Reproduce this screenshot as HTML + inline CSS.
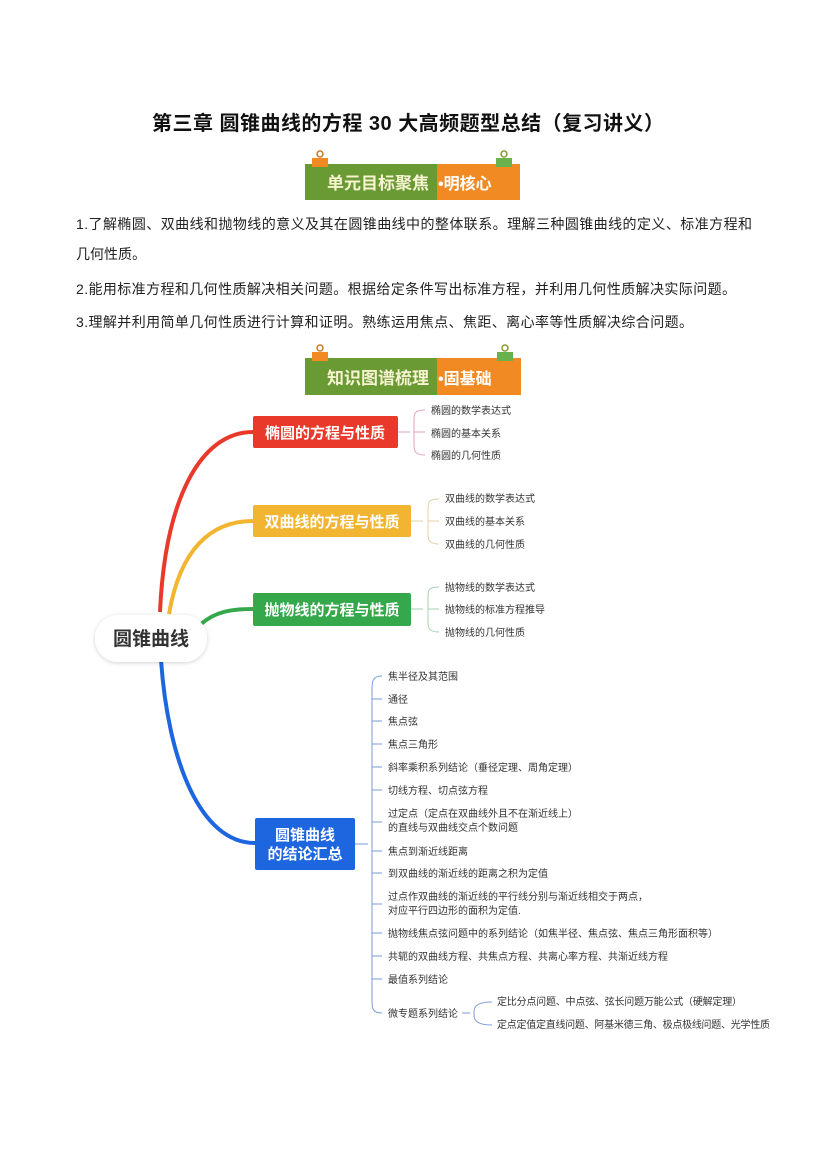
<!DOCTYPE html>
<html><head><meta charset="utf-8"><style>
html,body{margin:0;padding:0;background:#fff;}
svg{display:block;}
text{font-family:"Liberation Sans","Noto Sans CJK SC",sans-serif;}
</style></head><body>
<svg width="827" height="1169" viewBox="0 0 827 1169" xmlns="http://www.w3.org/2000/svg">
<defs>
<filter id="sh" x="-20%" y="-30%" width="140%" height="160%"><feDropShadow dx="0" dy="1" stdDeviation="2" flood-color="#000" flood-opacity="0.18"/></filter>
</defs>
<text x="408" y="130" font-size="20" font-weight="bold" text-anchor="middle" fill="#111" textLength="512">第三章 圆锥曲线的方程 30 大高频题型总结（复习讲义）</text>

<g>
<rect x="305" y="164" width="132" height="36" fill="#6a9a34"/>
<rect x="437" y="164" width="83" height="36" fill="#f28a23"/>
<rect x="312" y="158" width="16" height="9" fill="#f28a23"/><circle cx="320" cy="154" r="3" fill="none" stroke="#c87a20" stroke-width="1.5"/>
<rect x="496" y="158" width="16" height="9" fill="#6ab04c"/><circle cx="504" cy="154" r="3" fill="none" stroke="#8a9a30" stroke-width="1.5"/>
<text x="327" y="189" font-size="17" font-weight="bold" fill="#f6f3d0">单元目标聚焦</text>
<text x="438" y="189" font-size="16" font-weight="bold" fill="#fff">•明核心</text>
</g>

<text x="76" y="229" font-size="14" fill="#222" textLength="676">1.了解椭圆、双曲线和抛物线的意义及其在圆锥曲线中的整体联系。理解三种圆锥曲线的定义、标准方程和</text>
<text x="76" y="259" font-size="14" fill="#222">几何性质。</text>
<text x="76" y="294" font-size="14" fill="#222" textLength="660">2.能用标准方程和几何性质解决相关问题。根据给定条件写出标准方程，并利用几何性质解决实际问题。</text>
<text x="76" y="327" font-size="14" fill="#222" textLength="617">3.理解并利用简单几何性质进行计算和证明。熟练运用焦点、焦距、离心率等性质解决综合问题。</text>

<g>
<rect x="305" y="358" width="132" height="37" fill="#6a9a34"/>
<rect x="437" y="358" width="84" height="37" fill="#f28a23"/>
<rect x="312" y="352" width="16" height="9" fill="#f28a23"/><circle cx="320" cy="348" r="3" fill="none" stroke="#c87a20" stroke-width="1.5"/>
<rect x="497" y="352" width="16" height="9" fill="#6ab04c"/><circle cx="505" cy="348" r="3" fill="none" stroke="#8a9a30" stroke-width="1.5"/>
<text x="327" y="384" font-size="17" font-weight="bold" fill="#f6f3d0">知识图谱梳理</text>
<text x="438" y="384" font-size="16" font-weight="bold" fill="#fff">•固基础</text>
</g>

<path d="M160 612 C165 500 200 432 253 432" fill="none" stroke="#e8392b" stroke-width="4"/>
<path d="M169 614 C180 550 210 521 253 521" fill="none" stroke="#f2b531" stroke-width="4"/>
<path d="M201 624 C215 612 230 609 253 609" fill="none" stroke="#34a84a" stroke-width="4"/>
<path d="M161 660 C168 760 200 843 255 843" fill="none" stroke="#1e66e0" stroke-width="4"/>

<rect x="95" y="615" width="112" height="47" rx="23" fill="#fff" filter="url(#sh)"/>
<text x="151" y="645" font-size="19" font-weight="bold" fill="#333" text-anchor="middle">圆锥曲线</text>

<rect x="253" y="416" width="145" height="32" rx="2" fill="#e8392b"/>
<text x="325" y="438" font-size="15" font-weight="bold" fill="#fff" text-anchor="middle">椭圆的方程与性质</text>
<g fill="none" stroke="#e0a0c0" stroke-width="1"><path d="M398 432 H410"/><path d="M425 410 C414 410 414 414 414 420 V444 C414 450 414 455 425 455"/><path d="M414 432 H425"/></g>
<g font-size="10" fill="#333"><text x="431" y="414">椭圆的数学表达式</text><text x="431" y="437">椭圆的基本关系</text><text x="431" y="459">椭圆的几何性质</text></g>

<rect x="253" y="505" width="158" height="32" rx="2" fill="#f2b531"/>
<text x="332" y="527" font-size="15" font-weight="bold" fill="#fff" text-anchor="middle">双曲线的方程与性质</text>
<g fill="none" stroke="#e0d0a0" stroke-width="1"><path d="M411 521 H423"/><path d="M439 499 C428 499 428 503 428 509 V533 C428 539 428 544 439 544"/><path d="M428 521 H439"/></g>
<g font-size="10" fill="#333"><text x="445" y="502">双曲线的数学表达式</text><text x="445" y="525">双曲线的基本关系</text><text x="445" y="548">双曲线的几何性质</text></g>

<rect x="253" y="593" width="158" height="33" rx="2" fill="#34a84a"/>
<text x="332" y="615" font-size="15" font-weight="bold" fill="#fff" text-anchor="middle">抛物线的方程与性质</text>
<g fill="none" stroke="#a8d0b0" stroke-width="1"><path d="M411 609 H423"/><path d="M439 587 C428 587 428 591 428 597 V621 C428 627 428 632 439 632"/><path d="M428 609 H439"/></g>
<g font-size="10" fill="#333"><text x="445" y="591">抛物线的数学表达式</text><text x="445" y="613">抛物线的标准方程推导</text><text x="445" y="636">抛物线的几何性质</text></g>

<rect x="255" y="818" width="100" height="52" rx="2" fill="#1e66e0"/>
<text x="305" y="840" font-size="15" font-weight="bold" fill="#fff" text-anchor="middle">圆锥曲线</text>
<text x="305" y="859" font-size="15" font-weight="bold" fill="#fff" text-anchor="middle">的结论汇总</text>
<g fill="none" stroke="#7c9ad8" stroke-width="1">
<path d="M355 844 H368"/>
<path d="M382 676 C372 676 372 682 372 690 V1000 C372 1008 372 1013 382 1013"/>
<path d="M372 699 H382"/>
<path d="M372 721 H382"/><path d="M372 744 H382"/><path d="M372 767 H382"/><path d="M372 790 H382"/><path d="M372 822 H382"/><path d="M372 851 H382"/><path d="M372 873 H382"/><path d="M372 904 H382"/><path d="M372 933 H382"/><path d="M372 956 H382"/><path d="M372 979 H382"/>
<path d="M462 1013 H470"/>
<path d="M492 1002 C478 1002 474 1006 474 1012 V1015 C474 1021 478 1025 492 1025"/>
</g>
<g font-size="10" fill="#333">
<text x="388" y="680">焦半径及其范围</text>
<text x="388" y="703">通径</text>
<text x="388" y="725">焦点弦</text>
<text x="388" y="748">焦点三角形</text>
<text x="388" y="771">斜率乘积系列结论（垂径定理、周角定理）</text>
<text x="388" y="794">切线方程、切点弦方程</text>
<text x="388" y="817">过定点（定点在双曲线外且不在渐近线上）</text>
<text x="388" y="831">的直线与双曲线交点个数问题</text>
<text x="388" y="855">焦点到渐近线距离</text>
<text x="388" y="877">到双曲线的渐近线的距离之积为定值</text>
<text x="388" y="900">过点作双曲线的渐近线的平行线分别与渐近线相交于两点，</text>
<text x="388" y="914">对应平行四边形的面积为定值.</text>
<text x="388" y="937">抛物线焦点弦问题中的系列结论（如焦半径、焦点弦、焦点三角形面积等）</text>
<text x="388" y="960">共轭的双曲线方程、共焦点方程、共离心率方程、共渐近线方程</text>
<text x="388" y="983">最值系列结论</text>
<text x="388" y="1017">微专题系列结论</text>
<text x="497" y="1005" textLength="245">定比分点问题、中点弦、弦长问题万能公式（硬解定理）</text>
<text x="497" y="1028" textLength="273">定点定值定直线问题、阿基米德三角、极点极线问题、光学性质</text>
</g>
</svg>
</body></html>
